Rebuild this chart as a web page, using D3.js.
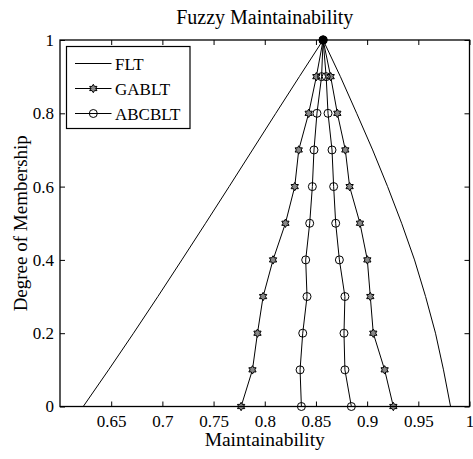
<!DOCTYPE html>
<html>
<head>
<meta charset="utf-8">
<script src="https://cdn.jsdelivr.net/npm/d3@7"></script>
<style>
  html, body { margin: 0; padding: 0; background: #fff; }
  svg { display: block; font-family: "Liberation Serif", "Times New Roman", serif; }
</style>
</head>
<body>
<svg id="chart" width="473" height="459"></svg>
<script>
// Membership levels (shared by every series)
const membership = [0, 0.1, 0.2, 0.3, 0.4, 0.5, 0.6, 0.7, 0.8, 0.9, 1];

// Left / right branches of each fuzzy number, indexed by membership level
const fltLeft    = [0.6227, 0.6475, 0.6718, 0.6956, 0.7190, 0.7422, 0.7652, 0.7880, 0.8108, 0.8338, 0.857];
const fltRight   = [0.9815, 0.9746, 0.9668, 0.9571, 0.9463, 0.9337, 0.9200, 0.9054, 0.8898, 0.8739, 0.857];
const gabltLeft  = [0.7769, 0.7880, 0.7929, 0.7984, 0.8081, 0.8202, 0.8293, 0.8332, 0.8429, 0.8504, 0.857];
const gabltRight = [0.9256, 0.9171, 0.9060, 0.9031, 0.9002, 0.8930, 0.8829, 0.8787, 0.8709, 0.8644, 0.857];
const abcLeft    = [0.8358, 0.8345, 0.8371, 0.8413, 0.8400, 0.8439, 0.8465, 0.8481, 0.8510, 0.8555, 0.857];
const abcRight   = [0.8846, 0.8783, 0.8774, 0.8783, 0.8729, 0.8693, 0.8673, 0.8657, 0.8618, 0.8600, 0.857];

const seriesNames = ["FLT", "GABLT", "ABCBLT"];
const xTicks = [0.65, 0.7, 0.75, 0.8, 0.85, 0.9, 0.95, 1];
const xTickLabels = ["0.65", "0.7", "0.75", "0.8", "0.85", "0.9", "0.95", "1"];
const yTicks = [0, 0.2, 0.4, 0.6, 0.8, 1];
const yTickLabels = ["0", "0.2", "0.4", "0.6", "0.8", "1"];

// Join a left branch (rising) with a right branch (falling) into one path
function fuzzyPoints(left, right) {
  const pts = membership.map((m, i) => ({ x: left[i], y: m }));
  for (let i = membership.length - 2; i >= 0; i--) pts.push({ x: right[i], y: membership[i] });
  return pts;
}

const series = [
  { name: seriesNames[0], marker: null,       pts: fuzzyPoints(fltLeft, fltRight) },
  { name: seriesNames[1], marker: "hexagram", pts: fuzzyPoints(gabltLeft, gabltRight) },
  { name: seriesNames[2], marker: "circle",   pts: fuzzyPoints(abcLeft, abcRight) }
];

const svg = d3.select("#chart");
const m = { left: 60, top: 40, right: 469.5, bottom: 406.5 };

const x = d3.scaleLinear().domain([0.6, 1]).range([m.left, m.right]);
const y = d3.scaleLinear().domain([0, 1]).range([m.bottom, m.top]);

// Six-pointed star marker
function hexagramPath(r) {
  const inner = r / Math.sqrt(3);
  const pts = [];
  for (let k = 0; k < 12; k++) {
    const a = -Math.PI / 2 + k * Math.PI / 6;
    const rr = k % 2 === 0 ? r : inner;
    pts.push([rr * Math.cos(a), rr * Math.sin(a)]);
  }
  return "M" + pts.map(p => p[0].toFixed(2) + "," + p[1].toFixed(2)).join("L") + "Z";
}

function drawMarker(g, type, cx, cy) {
  if (type === "hexagram") {
    g.append("path")
      .attr("d", hexagramPath(4.2))
      .attr("transform", `translate(${cx},${cy})`)
      .attr("fill", "#888").attr("stroke", "#000").attr("stroke-width", 1);
  } else if (type === "circle") {
    g.append("circle")
      .attr("cx", cx).attr("cy", cy).attr("r", 4)
      .attr("fill", "none").attr("stroke", "#000").attr("stroke-width", 1);
  }
}

// Axes box with inward ticks on all four sides
const axes = svg.append("g");
const tickLen = 5;
const bottomAxis = d3.axisBottom(x).tickValues(xTicks).tickSize(-tickLen).tickFormat((d, i) => xTickLabels[i]).tickPadding(8);
const topAxis = d3.axisTop(x).tickValues(xTicks).tickSize(-tickLen).tickFormat("");
const leftAxis = d3.axisLeft(y).tickValues(yTicks).tickSize(-tickLen).tickFormat((d, i) => yTickLabels[i]).tickPadding(6);
const rightAxis = d3.axisRight(y).tickValues(yTicks).tickSize(-tickLen).tickFormat("");

function styleAxis(g) {
  g.select(".domain").remove();
  g.selectAll(".tick line").attr("stroke", "#000").attr("stroke-width", 1);
  g.selectAll(".tick text").attr("fill", "#000").attr("font-size", 17)
    .attr("font-family", "Liberation Serif, Times New Roman, serif");
}

axes.append("g").attr("transform", `translate(0,${m.bottom})`).call(bottomAxis).call(styleAxis);
axes.append("g").attr("transform", `translate(0,${m.top})`).call(topAxis).call(styleAxis);
axes.append("g").attr("transform", `translate(${m.left},0)`).call(leftAxis).call(styleAxis);
axes.append("g").attr("transform", `translate(${m.right},0)`).call(rightAxis).call(styleAxis);

// Series lines and markers
const line = d3.line().x(d => x(d.x)).y(d => y(d.y));
const plot = svg.append("g");
series.forEach(s => {
  plot.append("path").datum(s.pts).attr("d", line)
    .attr("fill", "none").attr("stroke", "#000").attr("stroke-width", 1);
});
series.forEach(s => {
  if (!s.marker) return;
  s.pts.forEach(p => drawMarker(plot, s.marker, x(p.x), y(p.y)));
});

// Peak where all branches meet
plot.append("circle").attr("cx", x(fltLeft[10])).attr("cy", y(1)).attr("r", 4.5).attr("fill", "#000");

// Plot frame
svg.append("rect")
  .attr("x", m.left).attr("y", m.top)
  .attr("width", m.right - m.left).attr("height", m.bottom - m.top)
  .attr("fill", "none").attr("stroke", "#000").attr("stroke-width", 1.3);

// Legend
const legend = svg.append("g");
legend.append("rect")
  .attr("x", 66.5).attr("y", 46.5).attr("width", 123.5).attr("height", 82)
  .attr("fill", "#fff").attr("stroke", "#000").attr("stroke-width", 1.2);
series.forEach((s, i) => {
  const ly = 63.5 + i * 25;
  legend.append("line").attr("x1", 75).attr("x2", 111.5).attr("y1", ly).attr("y2", ly)
    .attr("stroke", "#000").attr("stroke-width", 1);
  if (s.marker) drawMarker(legend, s.marker, 93.3, ly);
  legend.append("text").attr("x", 115).attr("y", ly + 6)
    .attr("font-size", 17).attr("fill", "#000").text(s.name);
});

// Titles
svg.append("text").attr("x", (m.left + m.right) / 2).attr("y", 24)
  .attr("text-anchor", "middle").attr("font-size", 20).text("Fuzzy Maintainability");
svg.append("text").attr("x", (m.left + m.right) / 2).attr("y", 446)
  .attr("text-anchor", "middle").attr("font-size", 19.5).text("Maintainability");
svg.append("text").attr("transform", `translate(27,${(m.top + m.bottom) / 2}) rotate(-90)`)
  .attr("text-anchor", "middle").attr("font-size", 19).text("Degree of Membership");
</script>
</body>
</html>
